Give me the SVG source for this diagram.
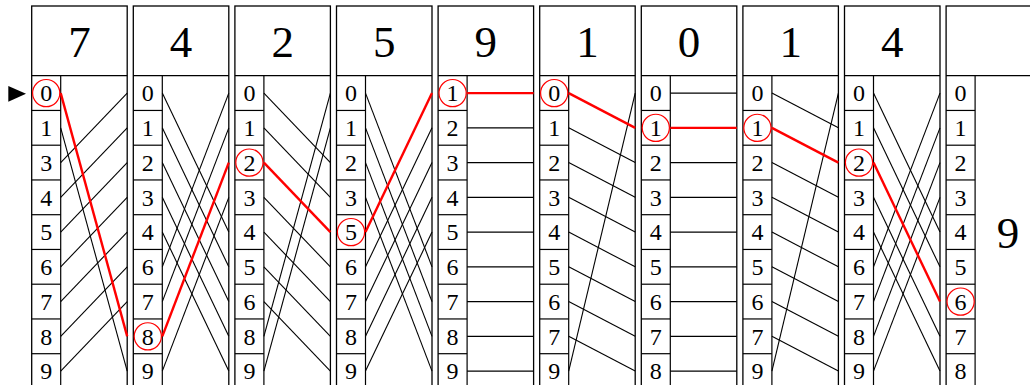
<svg xmlns="http://www.w3.org/2000/svg" width="1030" height="385" viewBox="0 0 1030 385">
<style>
.b{fill:#fff;stroke:#000;stroke-width:1.3}
.g{stroke:#000;stroke-width:1.2;fill:none}
.h{font-family:"Liberation Serif","DejaVu Serif",serif;font-size:45px;text-anchor:middle;fill:#000}
.d{font-family:"Liberation Serif","DejaVu Serif",serif;font-size:24px;text-anchor:middle;fill:#000}
.c{fill:none;stroke:#f00;stroke-width:1.2}
.k line{stroke:#000;stroke-width:1.1}
.r line{stroke:#f00;stroke-width:2.4}
</style>
<defs>
<g id="cells">
<line class="g" x1="0" y1="110.45" x2="29" y2="110.45"/>
<line class="g" x1="0" y1="145.2" x2="29" y2="145.2"/>
<line class="g" x1="0" y1="179.95" x2="29" y2="179.95"/>
<line class="g" x1="0" y1="214.7" x2="29" y2="214.7"/>
<line class="g" x1="0" y1="249.45" x2="29" y2="249.45"/>
<line class="g" x1="0" y1="284.2" x2="29" y2="284.2"/>
<line class="g" x1="0" y1="318.95" x2="29" y2="318.95"/>
<line class="g" x1="0" y1="353.7" x2="29" y2="353.7"/>
<line class="g" x1="29" y1="75.7" x2="29" y2="390"/>
</g>
</defs>
<polygon points="8.3,86 8.3,101.7 26,93.8" fill="#000"/>

<g id="col1" transform="translate(31.7,0)">
<rect class="b" x="0" y="6" width="95.5" height="390"/><line class="g" x1="0" y1="75.7" x2="95.5" y2="75.7"/><use href="#cells"/>
<text class="h" x="47.75" y="57">7</text>
<text class="d" x="14.5" y="101.3">0</text><text class="d" x="14.5" y="136">1</text><text class="d" x="14.5" y="170.8">3</text><text class="d" x="14.5" y="205.5">4</text><text class="d" x="14.5" y="240.3">5</text><text class="d" x="14.5" y="275">6</text><text class="d" x="14.5" y="309.8">7</text><text class="d" x="14.5" y="344.5">8</text><text class="d" x="14.5" y="379.3">9</text>
<circle class="c" cx="14.5" cy="93.1" r="13.6"/>
</g>
<g id="col2" transform="translate(133.3,0)">
<rect class="b" x="0" y="6" width="95.5" height="390"/><line class="g" x1="0" y1="75.7" x2="95.5" y2="75.7"/><use href="#cells"/>
<text class="h" x="47.75" y="57">4</text>
<text class="d" x="14.5" y="101.3">0</text><text class="d" x="14.5" y="136">1</text><text class="d" x="14.5" y="170.8">2</text><text class="d" x="14.5" y="205.5">3</text><text class="d" x="14.5" y="240.3">4</text><text class="d" x="14.5" y="275">6</text><text class="d" x="14.5" y="309.8">7</text><text class="d" x="14.5" y="344.5">8</text><text class="d" x="14.5" y="379.3">9</text>
<circle class="c" cx="14.5" cy="336.35" r="13.6"/>
</g>
<g id="col3" transform="translate(234.9,0)">
<rect class="b" x="0" y="6" width="95.5" height="390"/><line class="g" x1="0" y1="75.7" x2="95.5" y2="75.7"/><use href="#cells"/>
<text class="h" x="47.75" y="57">2</text>
<text class="d" x="14.5" y="101.3">0</text><text class="d" x="14.5" y="136">1</text><text class="d" x="14.5" y="170.8">2</text><text class="d" x="14.5" y="205.5">3</text><text class="d" x="14.5" y="240.3">4</text><text class="d" x="14.5" y="275">5</text><text class="d" x="14.5" y="309.8">6</text><text class="d" x="14.5" y="344.5">8</text><text class="d" x="14.5" y="379.3">9</text>
<circle class="c" cx="14.5" cy="162.6" r="13.6"/>
</g>
<g id="col4" transform="translate(336.5,0)">
<rect class="b" x="0" y="6" width="95.5" height="390"/><line class="g" x1="0" y1="75.7" x2="95.5" y2="75.7"/><use href="#cells"/>
<text class="h" x="47.75" y="57">5</text>
<text class="d" x="14.5" y="101.3">0</text><text class="d" x="14.5" y="136">1</text><text class="d" x="14.5" y="170.8">2</text><text class="d" x="14.5" y="205.5">3</text><text class="d" x="14.5" y="240.3">5</text><text class="d" x="14.5" y="275">6</text><text class="d" x="14.5" y="309.8">7</text><text class="d" x="14.5" y="344.5">8</text><text class="d" x="14.5" y="379.3">9</text>
<circle class="c" cx="14.5" cy="232.1" r="13.6"/>
</g>
<g id="col5" transform="translate(438.1,0)">
<rect class="b" x="0" y="6" width="95.5" height="390"/><line class="g" x1="0" y1="75.7" x2="95.5" y2="75.7"/><use href="#cells"/>
<text class="h" x="47.75" y="57">9</text>
<text class="d" x="14.5" y="101.3">1</text><text class="d" x="14.5" y="136">2</text><text class="d" x="14.5" y="170.8">3</text><text class="d" x="14.5" y="205.5">4</text><text class="d" x="14.5" y="240.3">5</text><text class="d" x="14.5" y="275">6</text><text class="d" x="14.5" y="309.8">7</text><text class="d" x="14.5" y="344.5">8</text><text class="d" x="14.5" y="379.3">9</text>
<circle class="c" cx="14.5" cy="93.1" r="13.6"/>
</g>
<g id="col6" transform="translate(539.7,0)">
<rect class="b" x="0" y="6" width="95.5" height="390"/><line class="g" x1="0" y1="75.7" x2="95.5" y2="75.7"/><use href="#cells"/>
<text class="h" x="47.75" y="57">1</text>
<text class="d" x="14.5" y="101.3">0</text><text class="d" x="14.5" y="136">1</text><text class="d" x="14.5" y="170.8">2</text><text class="d" x="14.5" y="205.5">3</text><text class="d" x="14.5" y="240.3">4</text><text class="d" x="14.5" y="275">5</text><text class="d" x="14.5" y="309.8">6</text><text class="d" x="14.5" y="344.5">7</text><text class="d" x="14.5" y="379.3">9</text>
<circle class="c" cx="14.5" cy="93.1" r="13.6"/>
</g>
<g id="col7" transform="translate(641.3,0)">
<rect class="b" x="0" y="6" width="95.5" height="390"/><line class="g" x1="0" y1="75.7" x2="95.5" y2="75.7"/><use href="#cells"/>
<text class="h" x="47.75" y="57">0</text>
<text class="d" x="14.5" y="101.3">0</text><text class="d" x="14.5" y="136">1</text><text class="d" x="14.5" y="170.8">2</text><text class="d" x="14.5" y="205.5">3</text><text class="d" x="14.5" y="240.3">4</text><text class="d" x="14.5" y="275">5</text><text class="d" x="14.5" y="309.8">6</text><text class="d" x="14.5" y="344.5">7</text><text class="d" x="14.5" y="379.3">8</text>
<circle class="c" cx="14.5" cy="127.85" r="13.6"/>
</g>
<g id="col8" transform="translate(742.9,0)">
<rect class="b" x="0" y="6" width="95.5" height="390"/><line class="g" x1="0" y1="75.7" x2="95.5" y2="75.7"/><use href="#cells"/>
<text class="h" x="47.75" y="57">1</text>
<text class="d" x="14.5" y="101.3">0</text><text class="d" x="14.5" y="136">1</text><text class="d" x="14.5" y="170.8">2</text><text class="d" x="14.5" y="205.5">3</text><text class="d" x="14.5" y="240.3">4</text><text class="d" x="14.5" y="275">5</text><text class="d" x="14.5" y="309.8">6</text><text class="d" x="14.5" y="344.5">7</text><text class="d" x="14.5" y="379.3">9</text>
<circle class="c" cx="14.5" cy="127.85" r="13.6"/>
</g>
<g id="col9" transform="translate(844.5,0)">
<rect class="b" x="0" y="6" width="95.5" height="390"/><line class="g" x1="0" y1="75.7" x2="95.5" y2="75.7"/><use href="#cells"/>
<text class="h" x="47.75" y="57">4</text>
<text class="d" x="14.5" y="101.3">0</text><text class="d" x="14.5" y="136">1</text><text class="d" x="14.5" y="170.8">2</text><text class="d" x="14.5" y="205.5">3</text><text class="d" x="14.5" y="240.3">4</text><text class="d" x="14.5" y="275">6</text><text class="d" x="14.5" y="309.8">7</text><text class="d" x="14.5" y="344.5">8</text><text class="d" x="14.5" y="379.3">9</text>
<circle class="c" cx="14.5" cy="162.6" r="13.6"/>
</g>
<g id="col10" transform="translate(946.1,0)">
<rect class="b" x="0" y="6" width="120" height="390"/><line class="g" x1="0" y1="75.7" x2="120" y2="75.7"/><use href="#cells"/>
<text class="d" x="14.5" y="101.3">0</text><text class="d" x="14.5" y="136">1</text><text class="d" x="14.5" y="170.8">2</text><text class="d" x="14.5" y="205.5">3</text><text class="d" x="14.5" y="240.3">4</text><text class="d" x="14.5" y="275">5</text><text class="d" x="14.5" y="309.8">6</text><text class="d" x="14.5" y="344.5">7</text><text class="d" x="14.5" y="379.3">8</text>
<circle class="c" cx="14.5" cy="301.6" r="13.6"/>
<text class="h" x="62" y="247.5">9</text>
</g>

<g id="connectors">
<g class="k">
<line x1="60.7" y1="127.85" x2="127.2" y2="371.1"/>
<line x1="60.7" y1="162.6" x2="127.2" y2="93.1"/>
<line x1="60.7" y1="197.35" x2="127.2" y2="127.85"/>
<line x1="60.7" y1="232.1" x2="127.2" y2="162.6"/>
<line x1="60.7" y1="266.85" x2="127.2" y2="197.35"/>
<line x1="60.7" y1="301.6" x2="127.2" y2="232.1"/>
<line x1="60.7" y1="336.35" x2="127.2" y2="266.85"/>
<line x1="60.7" y1="371.1" x2="127.2" y2="301.6"/>

<line x1="162.3" y1="93.1" x2="228.8" y2="232.1"/>
<line x1="162.3" y1="127.85" x2="228.8" y2="266.85"/>
<line x1="162.3" y1="162.6" x2="228.8" y2="301.6"/>
<line x1="162.3" y1="197.35" x2="228.8" y2="336.35"/>
<line x1="162.3" y1="232.1" x2="228.8" y2="371.1"/>
<line x1="162.3" y1="266.85" x2="228.8" y2="93.1"/>
<line x1="162.3" y1="301.6" x2="228.8" y2="127.85"/>
<line x1="162.3" y1="371.1" x2="228.8" y2="197.35"/>

<line x1="263.9" y1="93.1" x2="330.4" y2="162.6"/>
<line x1="263.9" y1="127.85" x2="330.4" y2="197.35"/>
<line x1="263.9" y1="197.35" x2="330.4" y2="266.85"/>
<line x1="263.9" y1="232.1" x2="330.4" y2="301.6"/>
<line x1="263.9" y1="266.85" x2="330.4" y2="336.35"/>
<line x1="263.9" y1="301.6" x2="330.4" y2="371.1"/>
<line x1="263.9" y1="336.35" x2="330.4" y2="93.1"/>
<line x1="263.9" y1="371.1" x2="330.4" y2="127.85"/>

<line x1="365.5" y1="93.1" x2="432" y2="266.85"/>
<line x1="365.5" y1="127.85" x2="432" y2="301.6"/>
<line x1="365.5" y1="162.6" x2="432" y2="336.35"/>
<line x1="365.5" y1="197.35" x2="432" y2="371.1"/>
<line x1="365.5" y1="266.85" x2="432" y2="127.85"/>
<line x1="365.5" y1="301.6" x2="432" y2="162.6"/>
<line x1="365.5" y1="336.35" x2="432" y2="197.35"/>
<line x1="365.5" y1="371.1" x2="432" y2="232.1"/>

<line x1="467.1" y1="127.85" x2="533.6" y2="127.85"/>
<line x1="467.1" y1="162.6" x2="533.6" y2="162.6"/>
<line x1="467.1" y1="197.35" x2="533.6" y2="197.35"/>
<line x1="467.1" y1="232.1" x2="533.6" y2="232.1"/>
<line x1="467.1" y1="266.85" x2="533.6" y2="266.85"/>
<line x1="467.1" y1="301.6" x2="533.6" y2="301.6"/>
<line x1="467.1" y1="336.35" x2="533.6" y2="336.35"/>
<line x1="467.1" y1="371.1" x2="533.6" y2="371.1"/>

<line x1="568.7" y1="127.85" x2="635.2" y2="162.6"/>
<line x1="568.7" y1="162.6" x2="635.2" y2="197.35"/>
<line x1="568.7" y1="197.35" x2="635.2" y2="232.1"/>
<line x1="568.7" y1="232.1" x2="635.2" y2="266.85"/>
<line x1="568.7" y1="266.85" x2="635.2" y2="301.6"/>
<line x1="568.7" y1="301.6" x2="635.2" y2="336.35"/>
<line x1="568.7" y1="336.35" x2="635.2" y2="371.1"/>
<line x1="568.7" y1="371.1" x2="635.2" y2="93.1"/>

<line x1="670.3" y1="93.1" x2="736.8" y2="93.1"/>
<line x1="670.3" y1="162.6" x2="736.8" y2="162.6"/>
<line x1="670.3" y1="197.35" x2="736.8" y2="197.35"/>
<line x1="670.3" y1="232.1" x2="736.8" y2="232.1"/>
<line x1="670.3" y1="266.85" x2="736.8" y2="266.85"/>
<line x1="670.3" y1="301.6" x2="736.8" y2="301.6"/>
<line x1="670.3" y1="336.35" x2="736.8" y2="336.35"/>
<line x1="670.3" y1="371.1" x2="736.8" y2="371.1"/>

<line x1="771.9" y1="93.1" x2="838.4" y2="127.85"/>
<line x1="771.9" y1="162.6" x2="838.4" y2="197.35"/>
<line x1="771.9" y1="197.35" x2="838.4" y2="232.1"/>
<line x1="771.9" y1="232.1" x2="838.4" y2="266.85"/>
<line x1="771.9" y1="266.85" x2="838.4" y2="301.6"/>
<line x1="771.9" y1="301.6" x2="838.4" y2="336.35"/>
<line x1="771.9" y1="336.35" x2="838.4" y2="371.1"/>
<line x1="771.9" y1="371.1" x2="838.4" y2="93.1"/>

<line x1="873.5" y1="93.1" x2="940" y2="232.1"/>
<line x1="873.5" y1="127.85" x2="940" y2="266.85"/>
<line x1="873.5" y1="197.35" x2="940" y2="336.35"/>
<line x1="873.5" y1="232.1" x2="940" y2="371.1"/>
<line x1="873.5" y1="266.85" x2="940" y2="93.1"/>
<line x1="873.5" y1="301.6" x2="940" y2="127.85"/>
<line x1="873.5" y1="336.35" x2="940" y2="162.6"/>
<line x1="873.5" y1="371.1" x2="940" y2="197.35"/>
</g>
<g class="r">
<line x1="60.7" y1="93.1" x2="127.2" y2="336.35"/>
<line x1="162.3" y1="336.35" x2="228.8" y2="162.6"/>
<line x1="263.9" y1="162.6" x2="330.4" y2="232.1"/>
<line x1="365.5" y1="232.1" x2="432" y2="93.1"/>
<line x1="467.1" y1="93.1" x2="533.6" y2="93.1"/>
<line x1="568.7" y1="93.1" x2="635.2" y2="127.85"/>
<line x1="670.3" y1="127.85" x2="736.8" y2="127.85"/>
<line x1="771.9" y1="127.85" x2="838.4" y2="162.6"/>
<line x1="873.5" y1="162.6" x2="940" y2="301.6"/>
</g>
</g>
</svg>
